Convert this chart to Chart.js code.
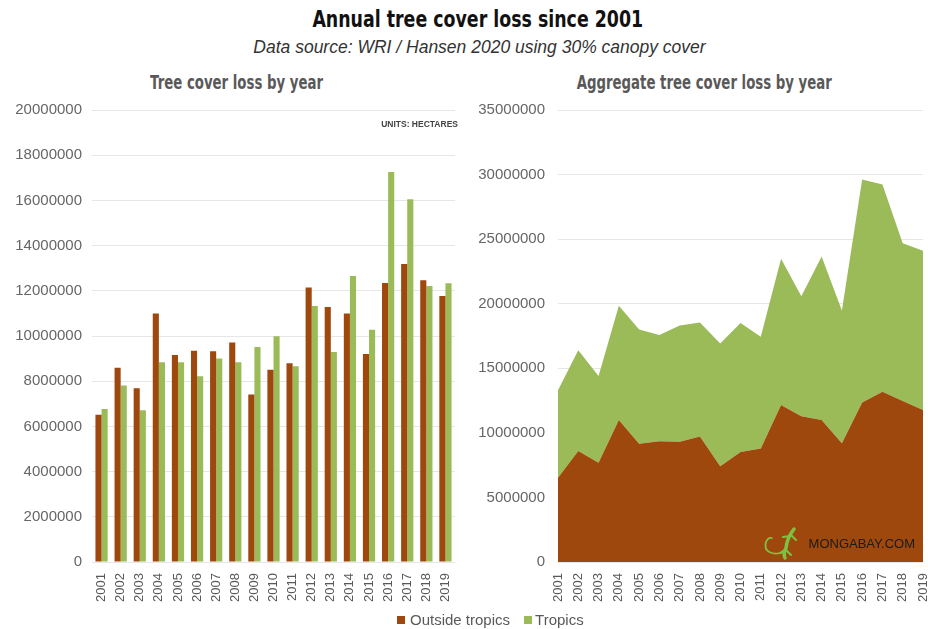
<!DOCTYPE html>
<html>
<head>
<meta charset="utf-8">
<title>Annual tree cover loss since 2001</title>
<script src="https://cdn.jsdelivr.net/npm/chart.js@4/dist/chart.umd.min.js"></script>
<style>
    body { margin: 0; background: #fff; font-family: "Liberation Sans", Arial, sans-serif; }
    #page { position: relative; width: 928px; height: 629px; overflow: hidden; }
    .box { position: absolute; top: 0; height: 629px; }
    .title { position: absolute; left: 0; width: 956px; text-align: center; white-space: nowrap; }
    .narrow { font-family: "DejaVu Sans", sans-serif; font-weight: bold; }
    .narrow span { display: inline-block; transform-origin: center; }
    #mainTitle { top: 6px; font-size: 23px; color: #111; }
    #mainTitle span { transform: scaleX(0.756); }
    #subTitle { top: 37px; font-size: 17.5px; font-style: italic; color: #333; width: 959px; }
    .sub { position: absolute; top: 71px; width: 400px; font-size: 19px; color: #595959; text-align: center; white-space: nowrap; }
    .sub span { transform: scaleX(0.70); }
    #units { position: absolute; left: 350px; width: 108px; top: 119px; text-align: right; font-size: 8.5px; font-weight: bold; color: #444; }
    #legend { position: absolute; top: 611px; left: 397px; font-size: 15px; color: #595959; white-space: nowrap; }
    #legend span.sw { display: inline-block; width: 8px; height: 8px; margin-right: 5px; vertical-align: 1px; }
    #legend span.item { margin-right: 14px; }
</style>
</head>
<body>
<div id="page">
    <div id="mainTitle" class="title narrow"><span>Annual tree cover loss since 2001</span></div>
    <div id="subTitle" class="title">Data source: WRI / Hansen 2020 using 30% canopy cover</div>
    <div class="sub narrow" style="left:37px;"><span>Tree cover loss by year</span></div>
    <div class="sub narrow" style="left:504px;"><span>Aggregate tree cover loss by year</span></div>

    <div class="box" style="left:0; width:465px;"><canvas id="barChart"></canvas></div>
    <div class="box" style="left:465px; width:463px;"><canvas id="areaChart"></canvas></div>

    <div id="units">UNITS: HECTARES</div>
    <div id="legend"><span class="item"><span class="sw" style="background:#9E480E"></span>Outside tropics</span><span><span class="sw" style="background:#9BBB59; margin-right:3px"></span>Tropics</span></div>
</div>

<script>
// hectares of tree cover lost per year
const years = ["2001", "2002", "2003", "2004", "2005", "2006", "2007", "2008", "2009", "2010",
               "2011", "2012", "2013", "2014", "2015", "2016", "2017", "2018", "2019"];
const outsideTropics = [6520000, 8590000, 7690000, 11000000, 9160000, 9350000, 9320000, 9710000, 7410000, 8510000,
                        8790000, 12150000, 11280000, 11000000, 9200000, 12350000, 13190000, 12470000, 11770000];
const tropics = [6770000, 7810000, 6720000, 8840000, 8840000, 8220000, 9000000, 8840000, 9510000, 9990000,
                 8660000, 11330000, 9290000, 12660000, 10280000, 17260000, 16050000, 12210000, 12330000];
const barTicks = { max: 20000000, step: 2000000 };
const areaTicks = { max: 35000000, step: 5000000 };

const brown = "#9E480E";
const green = "#9BBB59";
const tickFont = { family: "'Liberation Sans', Arial, sans-serif", size: 15 };
const yearFont = { family: "'Liberation Sans', Arial, sans-serif", size: 13 };

document.addEventListener("DOMContentLoaded", function () {

    // small gecko + site name in the corner of the area chart
    const logo = {
        id: "logo",
        afterDatasetsDraw(chart) {
            const c = chart.ctx;
            c.save();
            c.strokeStyle = "#7DC242";
            c.fillStyle = "#7DC242";
            c.lineCap = "round";
            c.lineWidth = 3.5;
            c.beginPath();
            c.moveTo(329, 529);
            c.quadraticCurveTo(322, 538, 321, 548);
            c.quadraticCurveTo(318, 554, 320, 558);
            c.stroke();
            c.lineWidth = 2;
            c.beginPath();
            c.moveTo(325, 536); c.lineTo(318, 537);
            c.moveTo(326, 535); c.lineTo(331, 540);
            c.moveTo(321, 549); c.lineTo(315, 553);
            c.moveTo(321, 550); c.lineTo(326, 555);
            c.stroke();
            c.lineWidth = 1.8;
            c.beginPath();
            c.moveTo(319, 552);
            c.bezierCurveTo(308, 556, 298, 552, 301, 542);
            c.quadraticCurveTo(303, 537, 307, 538);
            c.stroke();
            c.fillStyle = "#1a1a1a";
            c.font = "13px 'Liberation Sans', Arial, sans-serif";
            c.textAlign = "right";
            c.textBaseline = "alphabetic";
            c.fillText("MONGABAY.COM", 450, 548);
            c.restore();
        }
    };

    var ctx1 = document.getElementById("barChart").getContext("2d");
    new Chart(ctx1, {
        type: "bar",
        data: {
            labels: years,
            datasets: [
                { label: "Outside tropics", data: outsideTropics, backgroundColor: brown },
                { label: "Tropics", data: tropics, backgroundColor: green }
            ]
        },
        options: {
            responsive: true,
            maintainAspectRatio: false,
            animation: false,
            layout: { padding: { top: 110, left: 0, right: 10, bottom: 0 } },
            plugins: { legend: { display: false }, tooltip: { enabled: false } },
            datasets: { bar: { categoryPercentage: 0.64, barPercentage: 1.0 } },
            scales: {
                x: {
                    grid: { display: false },
                    border: { display: false },
                    ticks: { color: "#595959", font: yearFont, maxRotation: 90, minRotation: 90, padding: 3, autoSkip: false },
                    afterFit: s => { s.height = 67; }
                },
                y: {
                    min: 0,
                    max: barTicks.max,
                    grid: { color: "#e6e6e6", drawTicks: false },
                    border: { display: false },
                    ticks: { stepSize: barTicks.step, color: "#666", font: tickFont, padding: 10, callback: v => String(v) },
                    afterFit: s => { s.width = 92; }
                }
            }
        }
    });

    var ctx2 = document.getElementById("areaChart").getContext("2d");
    new Chart(ctx2, {
        type: "line",
        data: {
            labels: years,
            datasets: [
                { label: "Outside tropics", data: outsideTropics, backgroundColor: brown, borderWidth: 0, pointRadius: 0, fill: "origin" },
                { label: "Tropics", data: tropics, backgroundColor: green, borderWidth: 0, pointRadius: 0, fill: "-1" }
            ]
        },
        options: {
            responsive: true,
            maintainAspectRatio: false,
            animation: false,
            layout: { padding: { top: 110, left: 0, right: 5, bottom: 0 } },
            plugins: { legend: { display: false }, tooltip: { enabled: false } },
            scales: {
                x: {
                    offset: false,
                    grid: { display: false },
                    border: { display: false },
                    ticks: { color: "#595959", font: yearFont, maxRotation: 90, minRotation: 90, padding: 3, autoSkip: false },
                    afterFit: s => { s.height = 67; s.paddingLeft = 0; s.paddingRight = 0; }
                },
                y: {
                    stacked: true,
                    min: 0,
                    max: areaTicks.max,
                    grid: { color: "#e6e6e6", drawTicks: false },
                    border: { display: false },
                    ticks: { stepSize: areaTicks.step, color: "#666", font: tickFont, padding: 13, callback: v => String(v) },
                    afterFit: s => { s.width = 93; }
                }
            }
        },
        plugins: [logo]
    });
});
</script>
</body>
</html>
